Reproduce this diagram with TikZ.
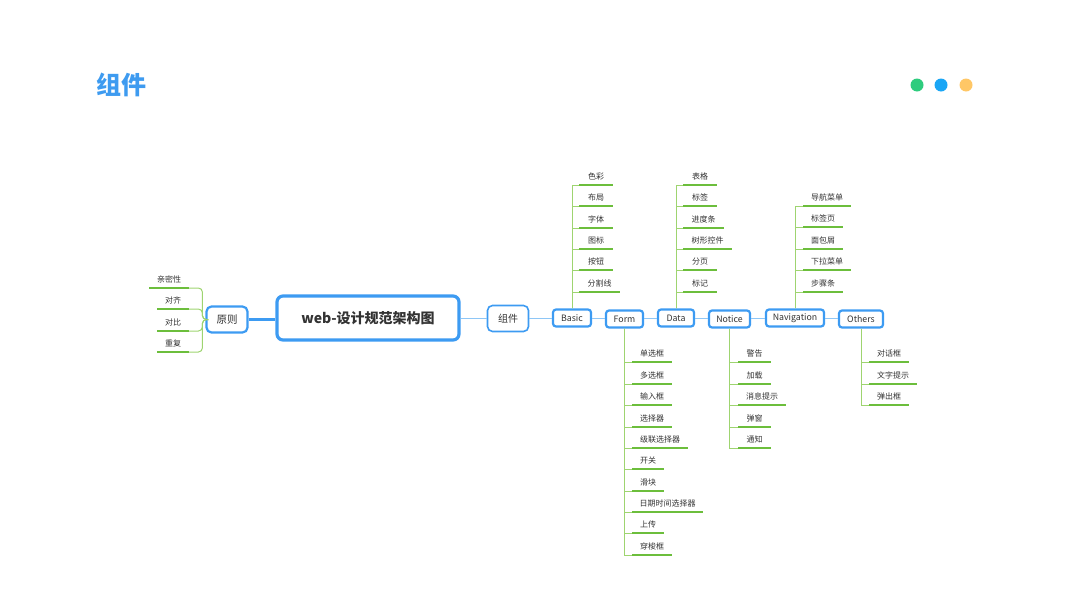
\documentclass[tikz,border=0pt]{standalone}
\usepackage{fontspec}
\setmainfont{Noto Sans CJK SC}
\usetikzlibrary{calc}
\definecolor{nodeblue}{HTML}{3D9BF2}
\definecolor{lblue}{HTML}{8EC6F6}
\definecolor{ugreen}{HTML}{6CBE3C}
\definecolor{lgreen}{HTML}{9ED470}
\definecolor{txt}{HTML}{333333}
\definecolor{titleblue}{HTML}{3E9BF0}
\definecolor{dgreen}{HTML}{2ECC7E}
\definecolor{dblue}{HTML}{1AA6F5}
\definecolor{dorange}{HTML}{FFC766}
\tikzset{
 box/.style={draw=nodeblue, line width=2.2pt, rounded corners=3pt, fill=white, inner sep=0pt, font=\fontsize{8.8}{10}\selectfont, text=txt},
 uline/.style={draw=ugreen, line width=1.8pt},
 gline/.style={draw=lgreen, line width=1pt},
 bline/.style={draw=lblue, line width=1pt},
 lab/.style={font=\fontsize{8}{9}\selectfont, text=txt, inner sep=0pt, anchor=base},
 dot/.style={circle, inner sep=0pt, minimum size=13pt}
}
\begin{document}
\begin{tikzpicture}[x=1pt,y=-1pt]
\useasboundingbox (0,0) rectangle (1067,600);
% title and dots
\node[font=\fontsize{25}{28}\selectfont\bfseries, text=titleblue, inner sep=0pt] (title) at (121,85) {组件};
\node[dot, fill=dgreen] (d1) at (917,85) {};
\node[dot, fill=dblue] (d2) at (941,85) {};
\node[dot, fill=dorange] (d3) at (966,85) {};
% main nodes
\node[box, line width=3.2pt, rounded corners=6pt, minimum width=182pt, minimum height=44pt, font=\fontsize{14}{16}\selectfont\bfseries] (center) at (368,318) {web-设计规范架构图};
\node[box, minimum width=41pt, minimum height=26pt, rounded corners=5pt, font=\fontsize{10.5}{12}\selectfont] (yz) at (227,319.5) {原则};
\node[box, minimum width=41pt, minimum height=26pt, rounded corners=5pt, line width=1.6pt, font=\fontsize{10}{12}\selectfont] (zj) at (508,318.5) {组件};
\node[box, minimum width=38pt, minimum height=17pt] (basic) at (572,318) {Basic};
\node[box, minimum width=37pt, minimum height=17pt] (form) at (624.5,319) {Form};
\node[box, minimum width=36pt, minimum height=17pt] (data) at (676,318) {Data};
\node[box, minimum width=41pt, minimum height=17pt] (notice) at (729.5,319) {Notice};
\node[box, minimum width=58pt, minimum height=17pt] (nav) at (795,318) {Navigation};
\node[box, minimum width=44pt, minimum height=17pt] (others) at (861,319) {Others};
% connectors
\draw[draw=nodeblue, line width=2.5pt] (yz.east) -- (center.west |- yz.east);
\draw[bline] (center.east |- zj.west) -- (zj.west);
\draw[bline] (zj.east) -- (basic.west |- zj.east);
\draw[bline] (basic.east) -- (form.west |- basic.east);
\draw[bline] (form.east |- data.west) -- (data.west);
\draw[bline] (data.east) -- (notice.west |- data.east);
\draw[bline] (notice.east |- nav.west) -- (nav.west);
\draw[bline] (nav.east) -- (others.west |- nav.east);
% yuanze children (left)
\foreach \yy/\t/\s [count=\i] in {288/亲密性/149, 309/对齐/157, 331/对比/157, 352/重复/157} {
  \coordinate (ys\i) at (\s,\yy);
  \coordinate (ye\i) at (189,\yy);
  \draw[uline] (ys\i) -- (ye\i);
  \node[lab] (yt\i) at ($(ys\i)!0.5!(ye\i)+(0,-5.5)$) {\t};
  \draw[gline, rounded corners=4pt] (yz.west) -- ++(-3,0) |- (ye\i);
}
% Basic children
\foreach \yy/\t/\e [count=\i] in {185/色彩/613, 206/布局/613, 228/字体/613, 249/图标/613, 270/按钮/613, 292/分割线/620} {
  \coordinate (bs\i) at (579,\yy);
  \coordinate (be\i) at (\e,\yy);
  \draw[uline] (bs\i) -- (be\i);
  \node[lab] (bt\i) at ($(bs\i)!0.5!(be\i)+(0,-5.5)$) {\t};
  \draw[gline] (basic.north) |- (bs\i);
}
% Data children
\foreach \yy/\t/\e [count=\i] in {185/表格/717, 206/标签/717, 228/进度条/724, 249/树形控件/732, 270/分页/717, 292/标记/717} {
  \coordinate (ds\i) at (683,\yy);
  \coordinate (de\i) at (\e,\yy);
  \draw[uline] (ds\i) -- (de\i);
  \node[lab] (dt\i) at ($(ds\i)!0.5!(de\i)+(0,-5.5)$) {\t};
  \draw[gline] (data.north) |- (ds\i);
}
% Navigation children
\foreach \yy/\t/\e [count=\i] in {206/导航菜单/851, 227/标签页/843, 249/面包屑/843, 270/下拉菜单/851, 292/步骤条/843} {
  \coordinate (ns\i) at (803,\yy);
  \coordinate (ne\i) at (\e,\yy);
  \draw[uline] (ns\i) -- (ne\i);
  \node[lab] (nt\i) at ($(ns\i)!0.5!(ne\i)+(0,-5.5)$) {\t};
  \draw[gline] (nav.north) |- (ns\i);
}
% Form children
\foreach \yy/\t/\e [count=\i] in {362/单选框/672, 384/多选框/672, 405/输入框/672, 427/选择器/672, 448/级联选择器/688, 469/开关/664, 491/滑块/664, 512/日期时间选择器/703, 533/上传/664, 555/穿梭框/672} {
  \coordinate (fs\i) at (632,\yy);
  \coordinate (fe\i) at (\e,\yy);
  \draw[uline] (fs\i) -- (fe\i);
  \node[lab] (ft\i) at ($(fs\i)!0.5!(fe\i)+(0,-5.5)$) {\t};
  \draw[gline] (form.south) |- (fs\i);
}
% Notice children
\foreach \yy/\t/\e [count=\i] in {362/警告/771, 384/加载/771, 405/消息提示/786, 427/弹窗/771, 448/通知/771} {
  \coordinate (cs\i) at (738,\yy);
  \coordinate (ce\i) at (\e,\yy);
  \draw[uline] (cs\i) -- (ce\i);
  \node[lab] (ct\i) at ($(cs\i)!0.5!(ce\i)+(0,-5.5)$) {\t};
  \draw[gline] (notice.south) |- (cs\i);
}
% Others children
\foreach \yy/\t/\e [count=\i] in {362/对话框/909, 384/文字提示/917, 405/弹出框/909} {
  \coordinate (os\i) at (869,\yy);
  \coordinate (oe\i) at (\e,\yy);
  \draw[uline] (os\i) -- (oe\i);
  \node[lab] (ot\i) at ($(os\i)!0.5!(oe\i)+(0,-5.5)$) {\t};
  \draw[gline] (others.south) |- (os\i);
}
\end{tikzpicture}
\end{document}
